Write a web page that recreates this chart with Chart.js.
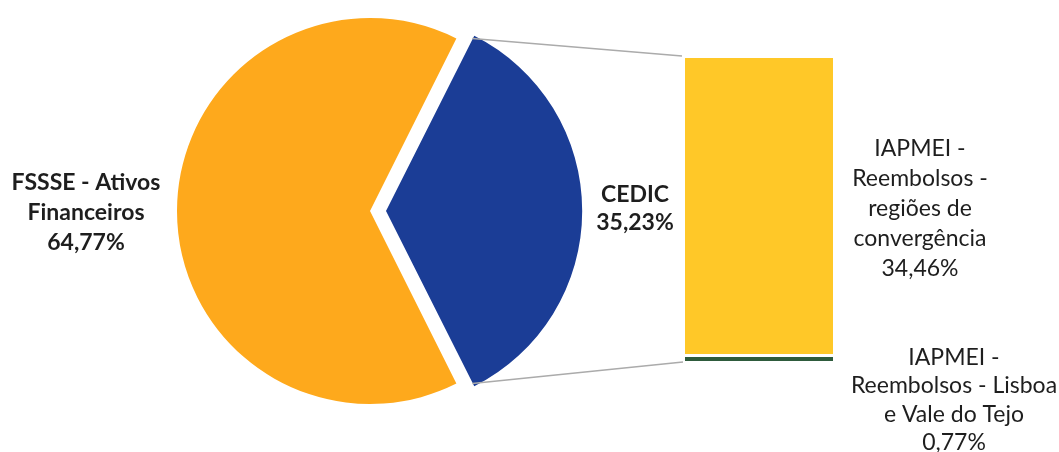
<!DOCTYPE html>
<html>
<head>
    <title>FSSSE / CEDIC / IAPMEI</title>
    <script src="https://cdn.jsdelivr.net/npm/chart.js@4"></script>
    <style>
        body { margin: 0; background: #fff; }
        #wrap { position: relative; width: 1059px; height: 452px; }
        #wrap canvas { position: absolute; left: 0; top: 0; }
    </style>
</head>
<body>
<div id="wrap">
    <canvas id="pie" width="1059" height="452"></canvas>
    <canvas id="bar" width="1059" height="452"></canvas>
</div>
<script>
// pie: main split
const pieNames = [['FSSSE - Ativos', 'Financeiros'], ['CEDIC']];
const pieValues = [64.77, 35.23];
const pieColors = ['#FEA91C', '#1B3D96'];
// bar: breakdown of the CEDIC slice (bottom to top)
const barNames = [['IAPMEI -', 'Reembolsos - Lisboa', 'e Vale do Tejo'], ['IAPMEI -', 'Reembolsos -', 'regiões de', 'convergência']];
const barValues = [0.77, 34.46];
const barColors = ['#2E5B3C', '#FFC828'];

const fontFamily = 'Lato, "Open Sans", sans-serif';
const pct = v => v.toFixed(2).replace('.', ',') + '%';
const barTotal = barValues.reduce((a, b) => a + b, 0);

// rotate so the second slice sits centred on the right
const pieTotal = pieValues.reduce((a, b) => a + b, 0);
const blueSweep = pieValues[1] / pieTotal * 360;

function drawLines(ctx, lines, x, y, lh) {
    const top = y - (lines.length - 1) * lh / 2;
    lines.forEach((t, i) => ctx.fillText(t, x, top + i * lh));
}

const pieChart = new Chart(document.getElementById('pie'), {
    type: 'pie',
    data: {
        labels: pieNames.map(n => n.join(' ')),
        datasets: [{
            data: pieValues,
            backgroundColor: pieColors,
            borderWidth: 0,
            offset: [0, 64],
        }],
    },
    options: {
        responsive: false,
        animation: false,
        rotation: blueSweep / 2 + 90,
        radius: 193,
        layout: { padding: { left: 0, right: 319, top: 0, bottom: 30 } },
        plugins: { legend: { display: false }, tooltip: { enabled: false } },
    },
});

// lines from the exploded slice to the bar, plus all the labels
const overlay = {
    id: 'overlay',
    afterDraw(chart) {
        const ctx = chart.ctx;
        const arcs = pieChart.getDatasetMeta(0).data;
        const arc = arcs[1];
        const half = (arc.startAngle + arc.endAngle) / 2;
        const shift = (arc.options.offset || 0) / 4;
        const ox = arc.x + Math.cos(half) * shift;
        const oy = arc.y + Math.sin(half) * shift;
        const r = arc.outerRadius;

        const topBar = chart.getDatasetMeta(1).data[0];
        const lowBar = chart.getDatasetMeta(0).data[0];
        const left = topBar.x - topBar.width / 2;
        const right = topBar.x + topBar.width / 2;

        ctx.save();
        ctx.strokeStyle = '#ABABAB';
        ctx.lineWidth = 1.5;
        ctx.beginPath();
        ctx.moveTo(ox + r * Math.cos(arc.startAngle), oy + r * Math.sin(arc.startAngle));
        ctx.lineTo(left - 3, topBar.y - 2);
        ctx.moveTo(ox + r * Math.cos(arc.endAngle), oy + r * Math.sin(arc.endAngle));
        ctx.lineTo(left - 2, lowBar.base + 1);
        ctx.stroke();

        ctx.fillStyle = '#1E1E1E';
        ctx.textAlign = 'center';
        ctx.textBaseline = 'middle';

        ctx.font = 'bold 23px ' + fontFamily;
        drawLines(ctx, pieNames[0].concat(pct(pieValues[0])), arcs[0].x - r - 91, arcs[0].y + 2, 30);
        drawLines(ctx, pieNames[1].concat(pct(pieValues[1])), ox + r + 56, oy - 2, 28);

        ctx.font = '23px ' + fontFamily;
        drawLines(ctx, barNames[1].concat(pct(barValues[1])), right + 87, (topBar.y + topBar.base) / 2 + 2, 30);
        drawLines(ctx, barNames[0].concat(pct(barValues[0])), right + 121, lowBar.base + 39, 28.5);
        ctx.restore();
    },
};

const barChart = new Chart(document.getElementById('bar'), {
    type: 'bar',
    data: {
        labels: [''],
        datasets: barValues.map((v, i) => ({
            label: barNames[i].join(' '),
            data: [v],
            backgroundColor: barColors[i],
            borderColor: '#ffffff',
            borderWidth: i === 0 ? { top: 3, right: 0, bottom: 0, left: 0 } : 0,
            borderSkipped: false,
            categoryPercentage: 1,
            barPercentage: 1,
        })),
    },
    options: {
        responsive: false,
        animation: false,
        layout: { padding: { left: 685, right: 226, top: 58, bottom: 91 } },
        scales: {
            x: { stacked: true, display: false },
            y: { stacked: true, display: false, min: 0, max: barTotal },
        },
        plugins: { legend: { display: false }, tooltip: { enabled: false } },
    },
    plugins: [overlay],
});
</script>
</body>
</html>
